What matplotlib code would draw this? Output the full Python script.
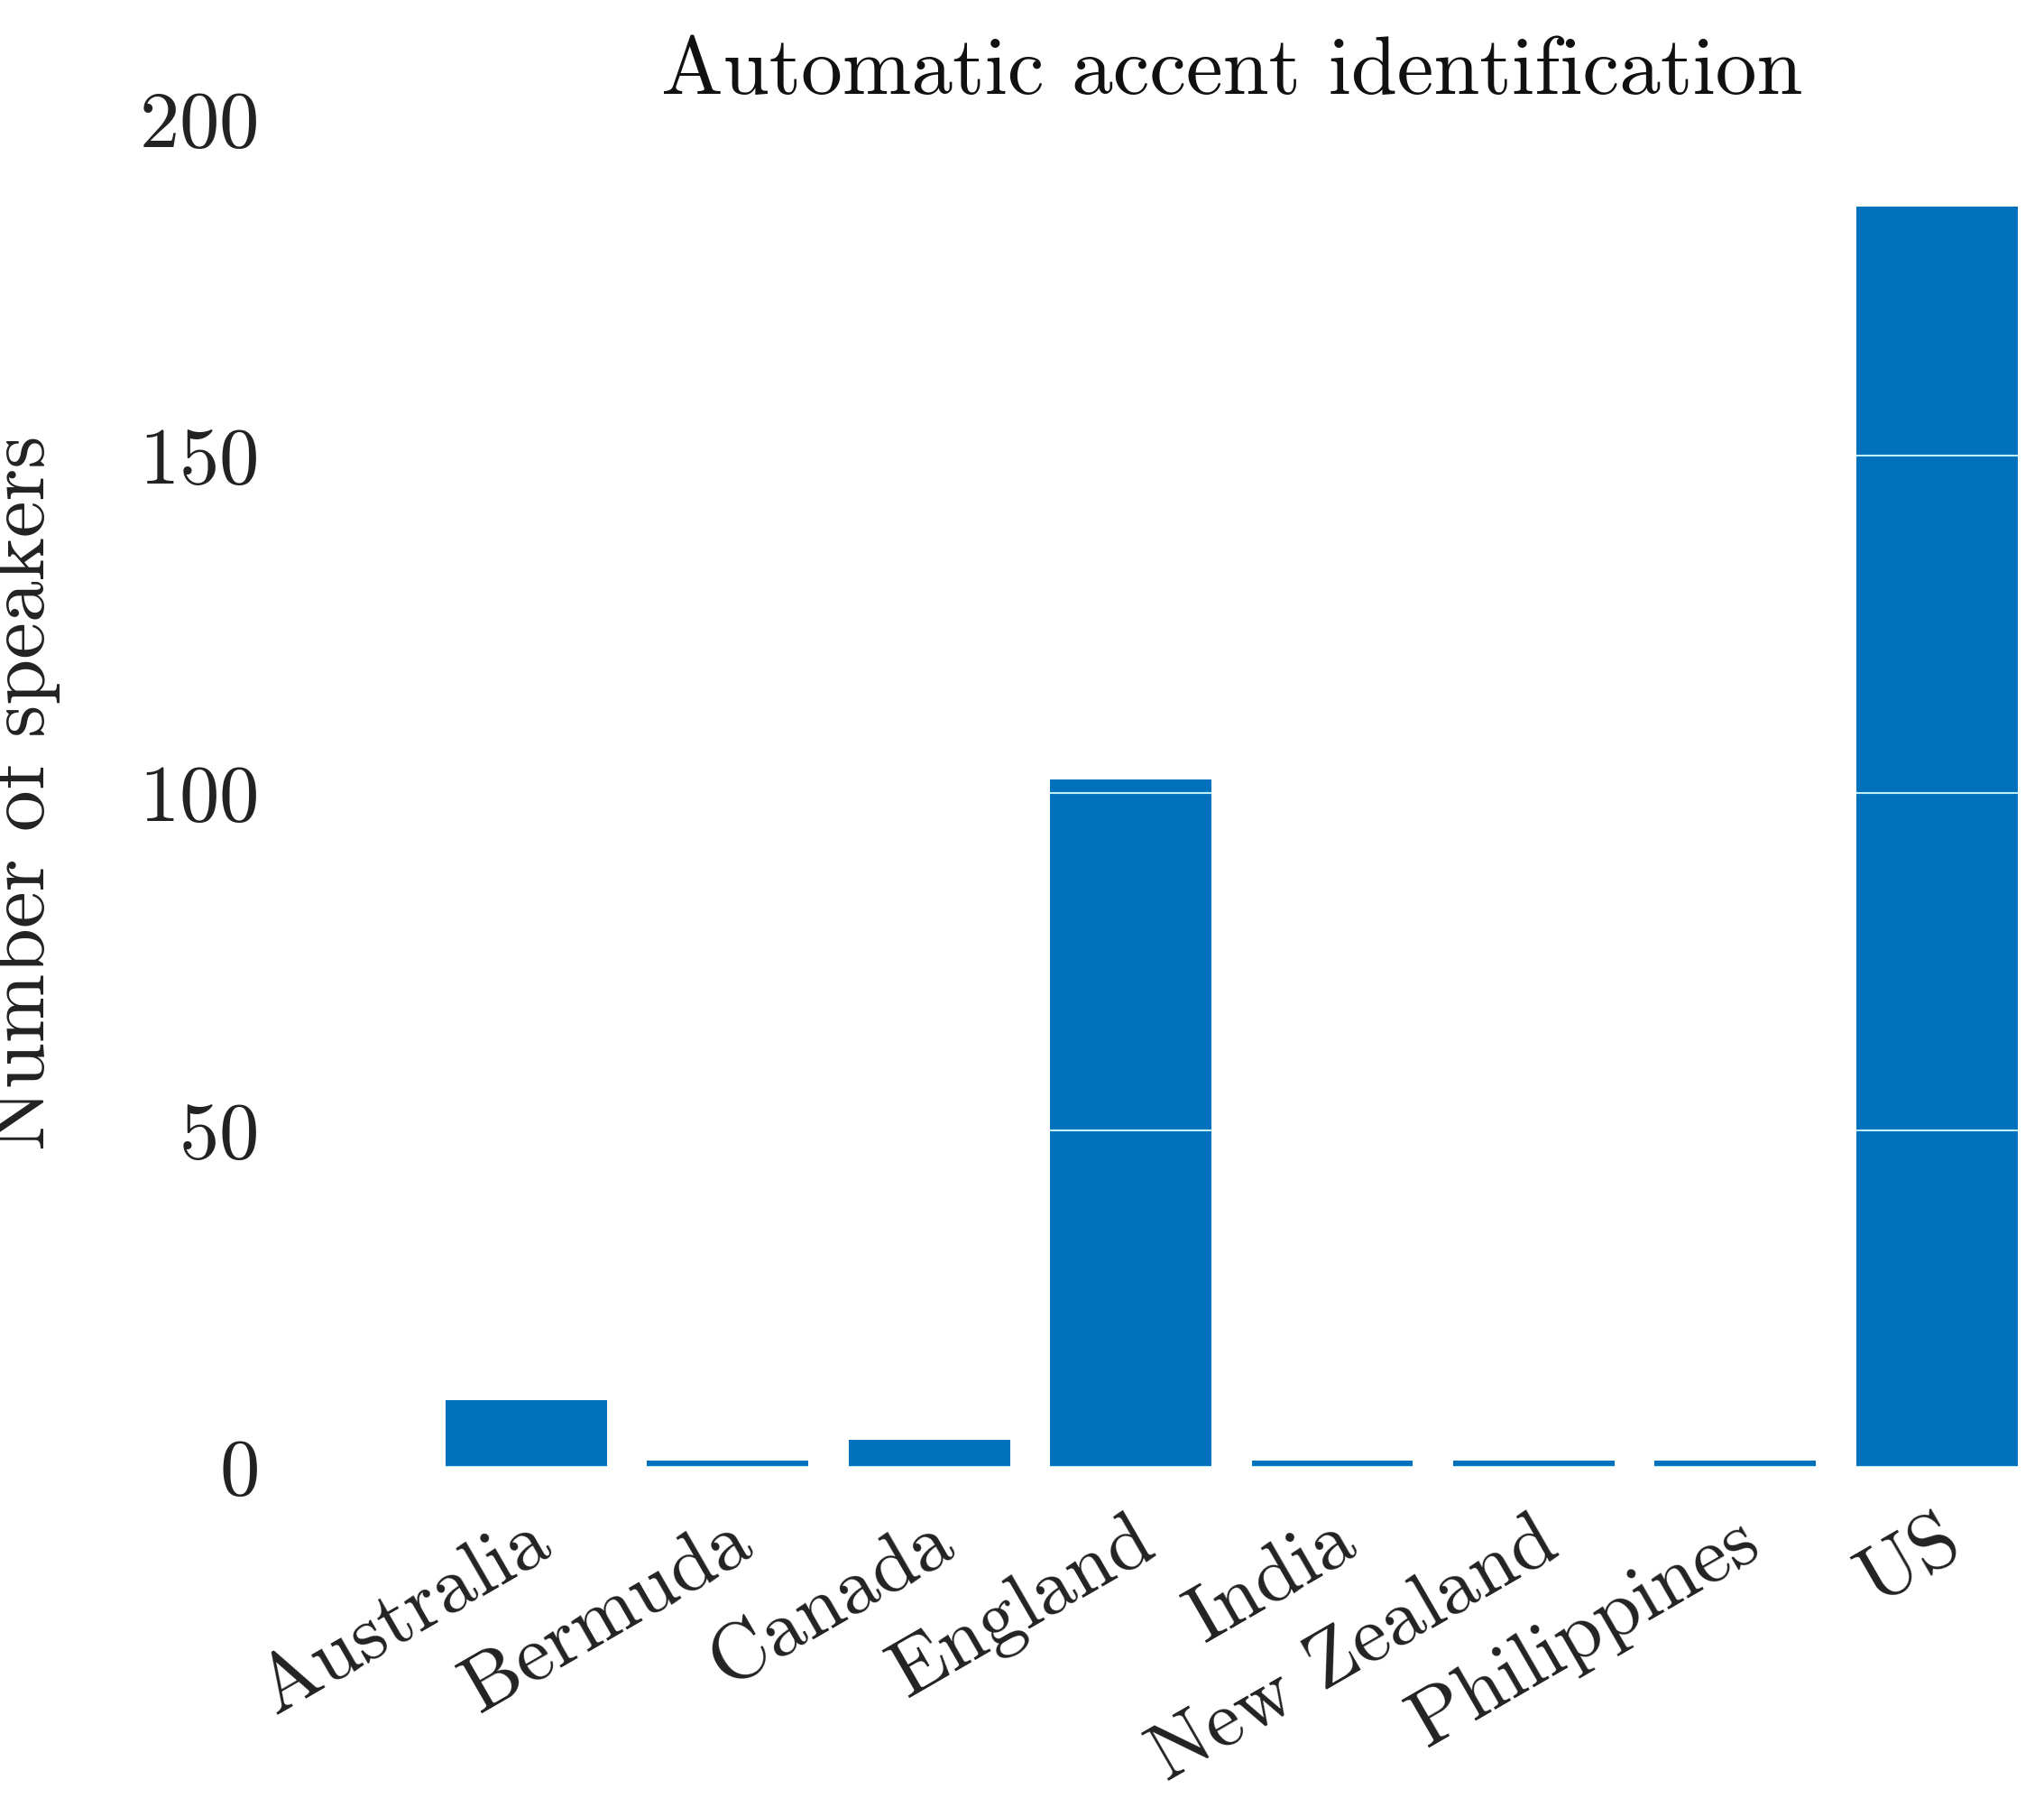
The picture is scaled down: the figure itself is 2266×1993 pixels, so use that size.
import matplotlib
matplotlib.use("Agg")
import matplotlib.pyplot as plt
import numpy as np

plt.rcParams['font.family'] = 'serif'
plt.rcParams['font.serif'] = ['cmr10']
plt.rcParams['mathtext.fontset'] = 'cm'
plt.rcParams['axes.formatter.use_mathtext'] = True

accents = ['Australia', 'Bermuda', 'Canada', 'England', 'India',
           'New Zealand', 'Philippines', 'US']
speakers = [10, 1, 4, 102, 1, 1, 1, 187]

fig = plt.figure(figsize=(22.66, 19.93), dpi=100)
ax = fig.add_axes([0.218, 0.184, 0.769, 0.75])
x = np.arange(1, len(accents) + 1)
ax.bar(x, speakers, width=0.8, color='#0072BD', zorder=1)
ax.set_xlim(0.6, 8.4)
ax.set_ylim(0, 200)
ax.set_yticks([0, 50, 100, 150, 200])
ax.set_xticks(x)
ax.set_xticklabels(accents, rotation=30, ha='right', rotation_mode='anchor')
ax.yaxis.grid(True, color='#A8E6F0', linewidth=1.5, zorder=2)
ax.set_axisbelow(False)
ax.set_facecolor('none')
for line in ax.get_ygridlines():
    line.set_color('#BFEFF7')
for s in ax.spines.values():
    s.set_visible(False)
ax.tick_params(axis='both', length=0, labelsize=64, colors='#222222')
ax.tick_params(axis='y', pad=150)
ax.tick_params(axis='x', pad=30)
ax.set_ylabel('Number of speakers', fontsize=66, color='#222222')
ax.yaxis.set_label_coords(-0.245, 0.5)
ax.set_title('Automatic accent identification', fontsize=66, color='#111111', pad=20)

# grid only shows over the bars in the reference: mask it outside them
ax.bar(x, [200] * len(x), width=0.8, color='none', zorder=0)
for xi, h in zip(x, speakers):
    ax.fill_between([xi + 0.4, xi + 0.6], 0, 200, color='white', zorder=3, linewidth=0)
    ax.fill_between([xi - 0.4, xi + 0.4], h, 200, color='white', zorder=3, linewidth=0)
fig.savefig('out.png')
